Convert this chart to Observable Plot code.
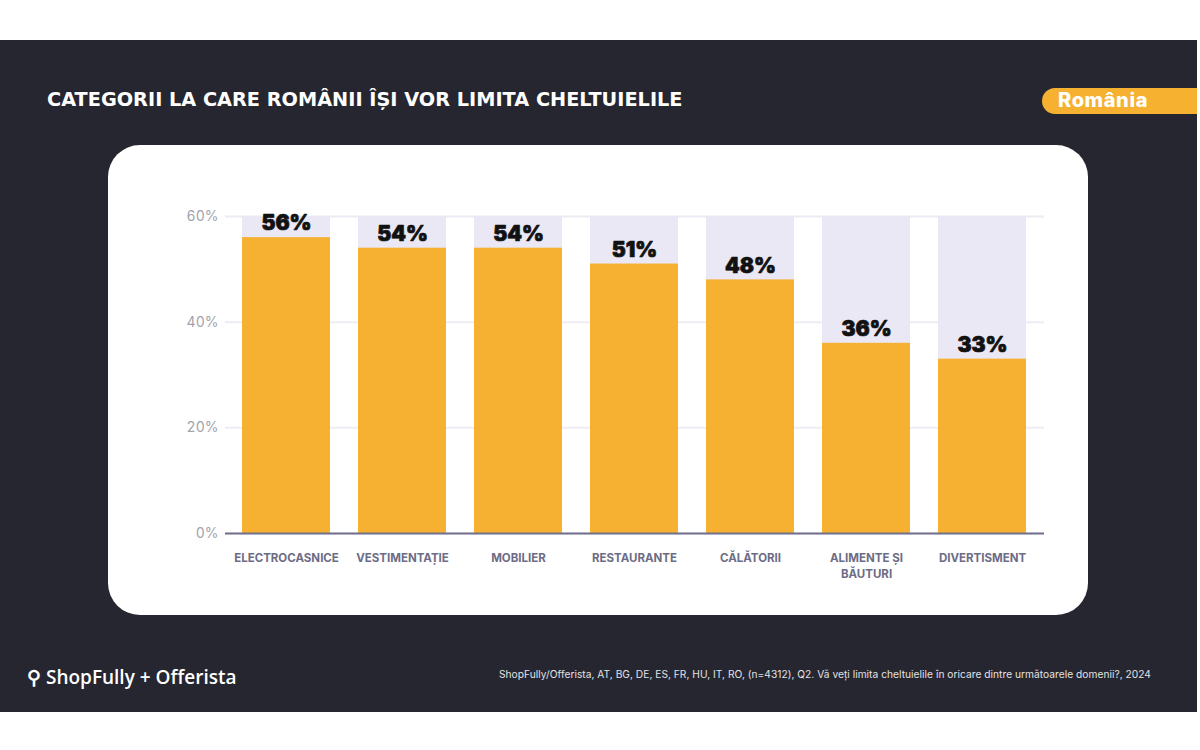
<!DOCTYPE html>
<html>
<head>
<meta charset="utf-8">
<script src="https://cdn.jsdelivr.net/npm/d3@7"></script>
<script src="https://cdn.jsdelivr.net/npm/@observablehq/plot@0.6"></script>
<style>
  html, body { margin: 0; padding: 0; background: #ffffff; }
  #page { position: relative; width: 1200px; height: 750px; overflow: hidden; background: #ffffff; font-family: Inter, "Open Sans", sans-serif; }
  #panel { position: absolute; left: 0; top: 40px; width: 1197px; height: 672px; background: #262630; }
  #title { position: absolute; left: 47px; top: 88px; color: #ffffff; font-family: "DejaVu Sans", sans-serif; font-weight: 700; font-size: 19.3px; letter-spacing: 0px; white-space: nowrap; }
  #badge { position: absolute; left: 1042px; top: 88px; width: 155px; height: 26px; background: #f5b12f; border-radius: 13px 0 0 13px; }
  #badge span { position: absolute; left: 16px; top: 0px; color: #ffffff; font-family: Inter, sans-serif; font-weight: 800; font-size: 20px; letter-spacing: 0.6px; }
  #card { position: absolute; left: 108px; top: 145px; width: 980px; height: 470px; background: #ffffff; border-radius: 32px; overflow: hidden; }
  #logo { position: absolute; left: 27px; top: 664px; color: #ffffff; font-family: "Open Sans", sans-serif; font-size: 19px; font-weight: 600; white-space: nowrap; letter-spacing: 0px; }
  #source { position: absolute; left: 499px; top: 668px; color: #e2e2e6; font-family: Inter, sans-serif; font-size: 10.2px; white-space: nowrap; letter-spacing: 0.03px; }
</style>
</head>
<body>
<div id="page">
  <div id="panel"></div>
  <div id="title">CATEGORII LA CARE ROMÂNII ÎȘI VOR LIMITA CHELTUIELILE</div>
  <div id="badge"><span>România</span></div>
  <div id="card"></div>
  <div id="logo">⚲ ShopFully + Offerista</div>
  <div id="source">ShopFully/Offerista, AT, BG, DE, ES, FR, HU, IT, RO, (n=4312), Q2. Vă veți limita cheltuielile în oricare dintre următoarele domenii?, 2024</div>
</div>
<script>
const categories = ["ELECTROCASNICE", "VESTIMENTAȚIE", "MOBILIER", "RESTAURANTE", "CĂLĂTORII", "ALIMENTE ȘI\nBĂUTURI", "DIVERTISMENT"];
const values = [56, 54, 54, 51, 48, 36, 33];
const maxValue = 60;
const yTicks = [0, 20, 40, 60];

const data = categories.map((c, i) => ({category: c, value: values[i], full: maxValue}));

const chart = Plot.plot({
  width: 980,
  height: 470,
  marginLeft: 117,
  marginRight: 44,
  marginTop: 71,
  marginBottom: 82,
  style: {background: "transparent", fontFamily: "Inter, sans-serif"},
  x: {domain: categories, paddingInner: 0.24, paddingOuter: 0.14, label: null},
  y: {domain: [0, maxValue], label: null},
  marks: [
    Plot.gridY(yTicks, {stroke: "#ececf4", strokeOpacity: 1, strokeWidth: 2}),
    Plot.barY(data, {x: "category", y: "full", fill: "#e9e8f4"}),
    Plot.barY(data, {x: "category", y: "value", fill: "#f6b032"}),
    Plot.ruleY([0], {stroke: "#72718c", strokeWidth: 2}),
    Plot.axisY({ticks: yTicks, tickSize: 0, tickPadding: 7, tickFormat: d => d + "%", fill: "#a3a3ad", fontSize: 14, label: null}),
    Plot.axisX({tickSize: 0, tickPadding: 17, fill: "#6d6c86", fontSize: 11.5, fontWeight: 700, lineHeight: 1.4, label: null, style: {letterSpacing: "0.4px"}}),
    Plot.text(data, {x: "category", y: "value", text: d => d.value + "%", dy: -14, fontSize: 21, fontWeight: 900, fill: "#111111", stroke: "#111111", strokeWidth: 0.7})
  ]
});
document.getElementById("card").appendChild(chart);
</script>
</body>
</html>
